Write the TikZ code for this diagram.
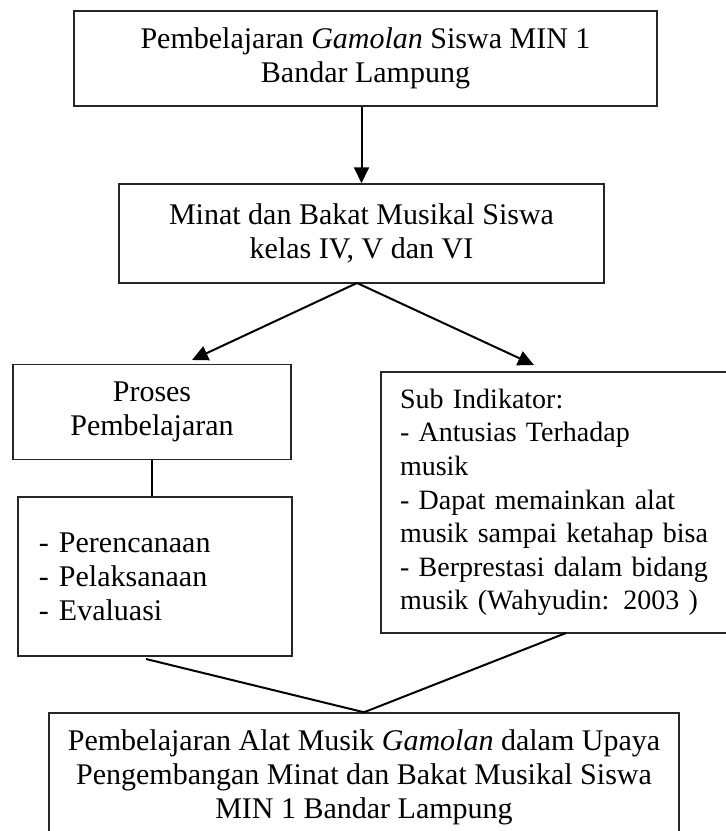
\documentclass[tikz,border=0pt]{standalone}
\usepackage{fontspec}
\setmainfont{Liberation Serif}
\usetikzlibrary{arrows.meta,positioning}
\tikzset
{
    flowbox/.style = {rectangle, draw=black!85, line width=0.75pt, align=center, inner sep=0pt, font=\fontsize{15}{17}\selectfont},
    listbox/.style = {flowbox, align=left},
    arrow/.style   = {line width=1pt, -{Triangle[length=8pt,width=7.5pt]}},
    link/.style    = {line width=1pt},
}

\begin{document}
\begin{tikzpicture}[x=0.5pt, y=-0.5pt]

   \useasboundingbox (0,0) rectangle (725,831);

   \node (pgm)     [flowbox, minimum width=291.5pt, minimum height=47.5pt]   at (365.5, 58.5)  {Pembelajaran \textit{Gamolan} Siswa MIN 1\\ Bandar Lampung};
   \node (minat)   [flowbox, minimum width=242.5pt, minimum height=49.5pt]   at (361.5, 233.5) {Minat dan Bakat Musikal Siswa\\ kelas IV, V dan VI};
   \node (proses)  [flowbox, minimum width=139pt, minimum height=47.5pt]     at (152, 412)     {Proses\\ Pembelajaran};
   \node (tahap)   [listbox, minimum width=137pt, minimum height=79.5pt, text width=116pt] at (155, 576.5)
                   {- Perencanaan\\ - Pelaksanaan\\ - Evaluasi};
   \node (ind)     [listbox, minimum width=200pt, minimum height=130.5pt, text width=181pt,
                    font=\fontsize{14}{16.8}\selectfont] at (581, 502.5)
                   {Sub Indikator:\\ - Antusias Terhadap\\ musik\\ - Dapat memainkan alat\\ musik sampai ketahap bisa\\ - Berprestasi dalam bidang\\ musik (Wahyudin: 2003 )};
   \node (hasil)   [flowbox, minimum width=315pt, minimum height=64.5pt]     at (364, 777.5)
                   {Pembelajaran Alat Musik \textit{Gamolan} dalam Upaya\\ Pengembangan Minat dan Bakat Musikal Siswa\\ MIN 1 Bandar Lampung};

   \coordinate (split)    at (357, 283);
   \coordinate (toleft)   at (192, 360);
   \coordinate (toright)  at (534, 365);
   \coordinate (tahapout) at (146, 659);
   \coordinate (indout)   at (566, 633);

   \path
      (pgm.south -| minat.north) edge[arrow] (minat.north)
      (split)                    edge[arrow] (toleft)
      (split)                    edge[arrow] (toright)
      (proses.south)             edge[link]  (proses.south |- tahap.north)
      (tahapout)                 edge[link]  (hasil.north)
      (indout)                   edge[link]  (hasil.north);
\end{tikzpicture}
\end{document}
